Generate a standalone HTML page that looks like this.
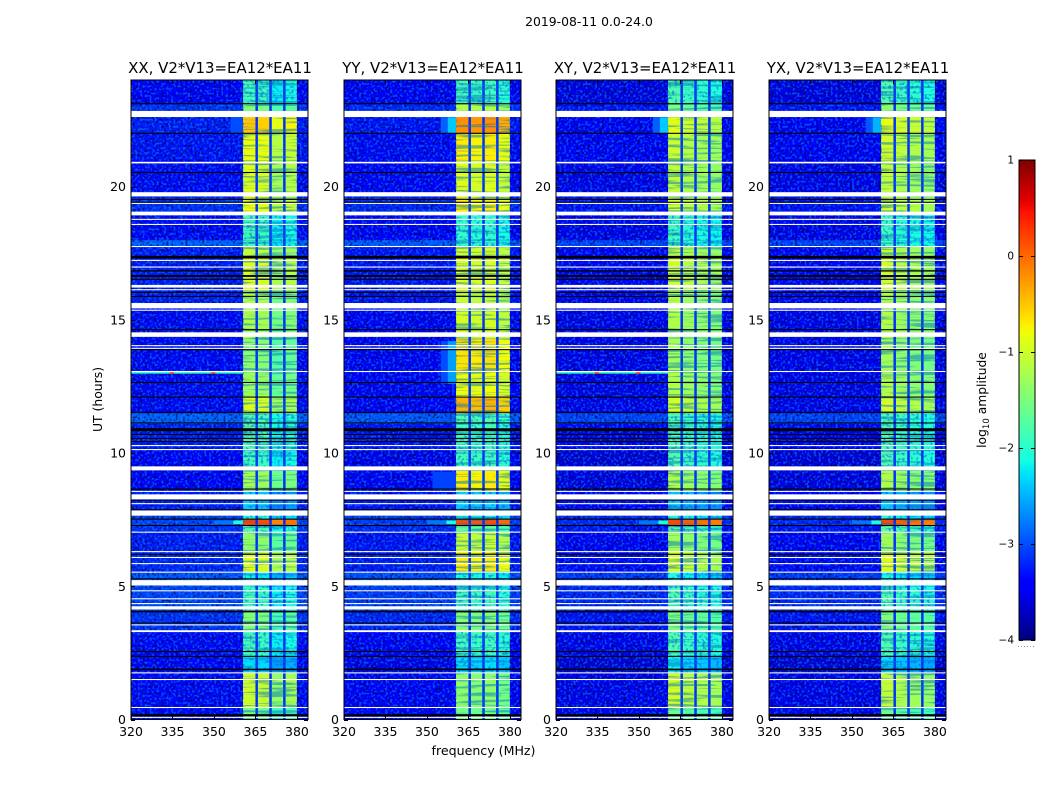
<!DOCTYPE html>
<html lang="en">
<head>
<meta charset="utf-8">
<title>2019-08-11 spectrogram</title>
<style>
html,body{margin:0;padding:0;background:#fff;width:1050px;height:800px;overflow:hidden}
svg{display:block}
text{font-family:"DejaVu Sans","Liberation Sans",sans-serif;fill:#000}
</style>
</head>
<body>
<svg id="chart" xmlns="http://www.w3.org/2000/svg" width="1050" height="800" viewBox="0 0 1050 800">
<defs>
<filter id="darkSpeck" x="0" y="0" width="100%" height="100%" color-interpolation-filters="sRGB">
<feTurbulence type="fractalNoise" baseFrequency="0.42" numOctaves="1" seed="4"/>
<feColorMatrix type="matrix" values="0 0 0 0 0  0 0 0 0 0  0 0 0 0 0.25  7 0 0 0 -3.6"/>
</filter>
<filter id="lightSpeck" x="0" y="0" width="100%" height="100%" color-interpolation-filters="sRGB">
<feTurbulence type="fractalNoise" baseFrequency="0.42" numOctaves="1" seed="11"/>
<feColorMatrix type="matrix" values="0 0 0 0 0  0 0 0 0 0.55  0 0 0 0 1  0 7 0 0 -3.6"/>
</filter>
<filter id="blueSpeck" x="0" y="0" width="100%" height="100%" color-interpolation-filters="sRGB">
<feTurbulence type="fractalNoise" baseFrequency="0.36" numOctaves="1" seed="23"/>
<feColorMatrix type="matrix" values="0 0 0 0 0  0 0 0 0 0.3  0 0 0 0 1  6 0 0 0 -3.2"/>
</filter>
<filter id="streak" x="0" y="0" width="100%" height="100%" color-interpolation-filters="sRGB">
<feTurbulence type="fractalNoise" baseFrequency="0.02 0.38" numOctaves="2" seed="7"/>
<feColorMatrix type="matrix" values="0 0 0 0 0  0 0 0 0 0.45  0 0 0 0 0.75  7 0 0 0 -3.5"/>
</filter>
<linearGradient id="jetGradient" x1="0" y1="1" x2="0" y2="0"></linearGradient>
</defs>
</svg>
<script>
// ---- chart data (log10 amplitude, hours, MHz) ----
const polarizations = ['XX', 'YY', 'XY', 'YX'];
const baselineLabel = 'V2*V13=EA12*EA11';
const figureTitle = '2019-08-11 0.0-24.0';
const freqTicks = [320, 335, 350, 365, 380];
const hourTicks = [0, 5, 10, 15, 20];
const colorTicks = [1, 0, -1, -2, -3, -4];

// time bands (hours): band i runs from timeEdges[i] to timeEdges[i+1]
const timeEdges = [0, 0.45, 1.75, 2.4, 3.3, 4.1, 5.0, 5.55, 6.3, 7.05, 7.28, 7.52, 7.85, 8.6, 9.35, 10.1, 11.1, 11.5, 12.1, 13.05, 14.3, 15.4, 16.1, 17.4, 17.75, 18.0, 19.0, 19.6, 21.0, 22.0, 22.85, 23.1, 24];
const backgroundLevel = [-3.3, -3.3, -3.4, -3.3, -3.1, -3.0, -2.9, -3.15, -3.2, -3.1, -3.0, -3.0, -3.2, -3.35, -3.4, -3.2, -2.85, -3.3, -3.3, -3.3, -3.3, -3.2, -3.2, -3.2, -2.85, -3.3, -3.1, -3.3, -3.25, -3.2, -3.1, -3.35];
const windowXX = [-1.7, -1.15, -2.4, -2.0, -1.6, -2.0, -2.3, -1.05, -1.5, -1.9, 0.05, -2.2, -2.5, -1.4, -2.0, -1.9, -1.9, -1.1, -1.45, -1.55, -1.35, -1.35, -1.05, -1.2, -2.0, -2.0, -0.95, -1.05, -0.95, -0.65, -1.6, -2.0];
const windowYY = [-1.6, -1.45, -2.3, -1.9, -1.5, -1.9, -2.1, -0.75, -1.1, -1.7, 0.1, -2.2, -2.4, -0.75, -1.9, -1.9, -1.8, -0.45, -0.85, -0.7, -1.0, -1.1, -0.95, -1.0, -2.0, -2.0, -0.75, -0.95, -0.75, -0.25, -1.2, -1.9];
const windowXY = [-1.7, -1.1, -2.3, -1.9, -1.6, -1.9, -2.2, -1.1, -1.4, -1.8, 0.05, -2.2, -2.5, -1.3, -1.9, -1.9, -1.9, -1.1, -1.3, -1.4, -1.3, -1.3, -1.1, -1.2, -2.0, -2.0, -1.1, -1.2, -1.15, -1.0, -1.6, -1.9];
const windowYX = [-1.7, -1.2, -2.4, -1.9, -1.6, -1.9, -2.2, -1.0, -1.4, -1.8, 0.05, -2.2, -2.5, -1.3, -1.9, -1.9, -1.9, -1.1, -1.3, -1.4, -1.3, -1.3, -1.1, -1.2, -2.0, -2.0, -1.1, -1.2, -1.1, -0.95, -1.5, -1.9];
const windowLevels = [windowXX, windowYY, windowXY, windowYX];
const backgroundOffset = [-0.05, -0.1, -0.2, -0.2];

// the four bright sub-bands of the 360-380 MHz window
const subbandStart = [360.5, 365.9, 370.9, 375.9];
const subbandEnd = [365.0, 370.0, 375.0, 380.0];
const subbandOffsetXX = [0.15, 0.1, -0.2, -0.1];
const subbandOffsetYY = [0.05, 0, 0.05, -0.1];
const subbandOffsetXY = [0.12, 0, -0.08, -0.15];
const subbandOffsetYX = [0.12, 0, -0.08, -0.15];
const subbandOffsets = [subbandOffsetXX, subbandOffsetYY, subbandOffsetXY, subbandOffsetYX];
const gapLevel = -3.15;
const spottyThreshold = -1.75;

// localized emission: polarization, hour from, hour to, MHz from, MHz to, level
const emissionPol = [0, 1, 1, 2, 2, 3, 3, 1, 1, 1, 0, 1, 2, 3, 0, 1, 2, 3, 0, 2, 0, 0, 2, 2];
const emissionT0 = [22.0, 22.0, 22.0, 22.0, 22.0, 22.0, 22.0, 12.6, 12.6, 8.6, 7.33, 7.33, 7.33, 7.33, 7.33, 7.33, 7.33, 7.33, 12.98, 12.98, 12.98, 12.98, 12.98, 12.98];
const emissionT1 = [22.6, 22.6, 22.6, 22.6, 22.6, 22.6, 22.6, 14.2, 14.2, 9.3, 7.47, 7.47, 7.47, 7.47, 7.47, 7.47, 7.47, 7.47, 13.05, 13.05, 13.05, 13.05, 13.05, 13.05];
const emissionF0 = [356, 355, 357.5, 355, 357.5, 355, 357.5, 355, 357.5, 352, 350, 350, 350, 350, 357, 357, 357, 357, 320, 320, 334, 349, 334, 349];
const emissionF1 = [360.5, 357.5, 360.5, 357.5, 360.5, 357.5, 360.5, 357.5, 360.5, 360.5, 357, 357, 357, 357, 360.5, 360.5, 360.5, 360.5, 360.5, 360.5, 335.5, 350.5, 335.5, 350.5];
const emissionLevel = [-3.0, -2.9, -2.4, -2.9, -2.4, -2.95, -2.5, -3.0, -2.6, -3.05, -2.8, -2.8, -2.8, -2.8, -2.1, -2.1, -2.1, -2.1, -1.9, -1.9, 0.1, 0.1, 0.1, 0.1];

// flagged rows (hours): white = no data, black = zero amplitude
const whiteStart = [22.61, 20.87, 19.63, 19.35, 18.92, 18.75, 18.56, 17.73, 17.21, 16.96, 16.21, 16.11, 15.43, 15.34, 14.36, 14.01, 13.91, 13.04, 10.26, 10.11, 9.35, 8.54, 8.26, 8.08, 7.65, 7.01, 6.28, 6.06, 5.83, 5.51, 5.03, 4.81, 4.51, 4.33, 4.13, 3.53, 3.28, 1.73, 1.48, 0.43, 0.06];
const whiteEnd = [22.84, 20.93, 19.79, 19.40, 19.06, 18.79, 18.60, 17.77, 17.25, 17.00, 16.31, 16.15, 15.63, 15.38, 14.53, 14.05, 13.95, 13.08, 10.30, 10.15, 9.50, 8.58, 8.45, 8.12, 7.85, 7.05, 6.32, 6.10, 5.87, 5.55, 5.23, 4.85, 4.55, 4.37, 4.25, 3.57, 3.35, 1.77, 1.52, 0.47, 0.10];
const blackStart = [23.09, 21.98, 20.51, 19.50, 19.39, 17.30, 16.81, 16.61, 16.50, 16.01, 15.86, 14.61, 13.86, 12.63, 12.08, 11.51, 11.11, 10.82, 10.68, 10.53, 10.41, 8.63, 8.21, 7.85, 7.50, 7.26, 6.18, 5.26, 4.02, 3.60, 2.53, 2.35, 1.85, 0.12];
const blackEnd = [23.13, 22.02, 20.55, 19.54, 19.43, 17.40, 16.86, 16.68, 16.54, 16.05, 15.90, 14.65, 13.90, 12.67, 12.12, 11.55, 11.15, 10.93, 10.72, 10.57, 10.45, 8.67, 8.25, 7.89, 7.54, 7.30, 6.22, 5.30, 4.08, 3.64, 2.57, 2.39, 1.91, 0.20];

// ---- axes ----
const NS = 'http://www.w3.org/2000/svg';
const svg = document.getElementById('chart');
const panelLeft = [131, 344, 556, 769];
const panelWidth = 177;
const plotTop = 80;
const plotBottom = 719.5;
const freqMin = 320, freqMax = 384, hourMin = 0, hourMax = 24;
const levelMin = -4, levelMax = 1;
const barLeft = 1019, barWidth = 16, barTop = 160, barBottom = 640;

function xScale(p, f) { return panelLeft[p] + (f - freqMin) / (freqMax - freqMin) * panelWidth; }
function yScale(h) { return plotBottom - (h - hourMin) / (hourMax - hourMin) * (plotBottom - plotTop); }
function barScale(v) { return barBottom - (v - levelMin) / (levelMax - levelMin) * (barBottom - barTop); }

function interp(t, pts) {
  for (let i = 1; i < pts.length; i++) {
    if (t <= pts[i][0]) {
      const a = pts[i - 1], b = pts[i];
      return a[1] + (b[1] - a[1]) * (t - a[0]) / (b[0] - a[0]);
    }
  }
  return pts[pts.length - 1][1];
}
function jet(t) {
  t = Math.max(0, Math.min(1, t));
  const r = interp(t, [[0, 0], [0.35, 0], [0.66, 1], [0.89, 1], [1, 0.5]]);
  const g = interp(t, [[0, 0], [0.125, 0], [0.375, 1], [0.64, 1], [0.91, 0], [1, 0]]);
  const b = interp(t, [[0, 0.5], [0.11, 1], [0.34, 1], [0.65, 0], [1, 0]]);
  return 'rgb(' + Math.round(r * 255) + ',' + Math.round(g * 255) + ',' + Math.round(b * 255) + ')';
}
function levelColor(v) { return jet((v - levelMin) / (levelMax - levelMin)); }

function makeRect(parent, x, y, w, h, fill) {
  const r = document.createElementNS(NS, 'rect');
  r.setAttribute('x', x.toFixed(2));
  r.setAttribute('y', y.toFixed(2));
  r.setAttribute('width', w.toFixed(2));
  r.setAttribute('height', h.toFixed(2));
  r.setAttribute('fill', fill);
  parent.appendChild(r);
  return r;
}
function makeLine(parent, x1, y1, x2, y2, stroke) {
  const l = document.createElementNS(NS, 'line');
  l.setAttribute('x1', x1);
  l.setAttribute('y1', y1);
  l.setAttribute('x2', x2);
  l.setAttribute('y2', y2);
  l.setAttribute('stroke', stroke);
  l.setAttribute('stroke-width', '1');
  parent.appendChild(l);
  return l;
}
function makeText(parent, x, y, size, anchor, str) {
  const t = document.createElementNS(NS, 'text');
  t.setAttribute('x', x);
  t.setAttribute('y', y);
  t.setAttribute('font-size', size);
  t.setAttribute('text-anchor', anchor);
  t.textContent = str;
  parent.appendChild(t);
  return t;
}

// ---- panels ----
polarizations.forEach(function (pol, p) {
  const left = panelLeft[p];
  const group = document.createElementNS(NS, 'g');
  
  
  svg.appendChild(group);

  const levels = windowLevels[p];
  const offsets = subbandOffsets[p];
  const winLeft = xScale(p, subbandStart[0]);
  const winRight = xScale(p, subbandEnd[3]);
  const panelRight = left + panelWidth;

  for (let i = 0; i < levels.length; i++) {
    const y0 = yScale(timeEdges[i + 1]);
    const y1 = yScale(timeEdges[i]);
    const bg = backgroundLevel[i] + backgroundOffset[p];
    const bgCell = makeRect(group, left, y0, panelWidth, y1 - y0 + 0.3, levelColor(bg));
    
    
    const gapCell = makeRect(group, winLeft, y0, winRight - winLeft, y1 - y0 + 0.3, levelColor(gapLevel));
    
    
    for (let s = 0; s < subbandStart.length; s++) {
      const x0 = xScale(p, subbandStart[s]);
      const x1 = xScale(p, subbandEnd[s]);
      const cell = makeRect(group, x0, y0, x1 - x0, y1 - y0 + 0.3, levelColor(levels[i] + offsets[s]));
      
      
    }
    if (levels[i] <= spottyThreshold) {
      const spots = makeRect(group, winLeft, y0, winRight - winLeft, y1 - y0, '#000');
      spots.setAttribute('filter', 'url(#blueSpeck)');
      spots.setAttribute('opacity', '0.55');
      
      
    }
  }

  // faint horizontal streaks across the bright window
  const streaks = makeRect(group, winLeft, plotTop, winRight - winLeft, plotBottom - plotTop, '#000');
  streaks.setAttribute('filter', 'url(#streak)');
  streaks.setAttribute('opacity', '0.5');
  
  

  // speckle texture over the quiet background only
  const regionX = [left, winRight];
  const regionW = [winLeft - left, panelRight - winRight];
  regionX.forEach(function (rx, k) {
    const dark = makeRect(group, rx, plotTop, regionW[k], plotBottom - plotTop, '#000');
    dark.setAttribute('filter', 'url(#darkSpeck)');
    dark.setAttribute('opacity', '0.6');
    
    
    const light = makeRect(group, rx, plotTop, regionW[k], plotBottom - plotTop, '#000');
    light.setAttribute('filter', 'url(#lightSpeck)');
    light.setAttribute('opacity', '0.55');
    
    
  });

  for (let e = 0; e < emissionPol.length; e++) {
    if (emissionPol[e] !== p) continue;
    const x0 = xScale(p, emissionF0[e]);
    const x1 = xScale(p, emissionF1[e]);
    const y0 = yScale(emissionT1[e]);
    const y1 = yScale(emissionT0[e]);
    const cell = makeRect(group, x0, y0, x1 - x0, y1 - y0, levelColor(emissionLevel[e]));
    
    
  }

  // flagged rows
  whiteStart.forEach(function (h0, i) {
    const y0 = yScale(whiteEnd[i]);
    const y1 = yScale(h0);
    const row = makeRect(group, left, y0, panelWidth, y1 - y0, '#fff');
    
    
  });
  blackStart.forEach(function (h0, i) {
    const y0 = yScale(blackEnd[i]);
    const y1 = yScale(h0);
    const row = makeRect(group, left, y0, panelWidth, y1 - y0, '#000');
    
    
  });

  // frame
  const frame = makeRect(group, left, plotTop, panelWidth, plotBottom - plotTop, 'none');
  frame.setAttribute('stroke', '#000');
  frame.setAttribute('stroke-width', '1');
  
  

  // ticks and labels
  freqTicks.forEach(function (f) {
    const x = Math.round(xScale(p, f)) + 0.5;
    const b = makeLine(group, x, plotBottom, x, plotBottom - 4, '#000');
    
    
    const tp = makeLine(group, x, plotTop, x, plotTop + 4, '#000');
    
    
    const t = makeText(group, xScale(p, f), 736, 12.5, 'middle', String(f));
    
    
  });
  hourTicks.forEach(function (h) {
    const y = Math.round(yScale(h)) + 0.5;
    const a = makeLine(group, left, y, left + 4, y, '#000');
    
    
    const c = makeLine(group, left + panelWidth, y, left + panelWidth - 4, y, '#000');
    
    
    const t = makeText(group, left - 5, yScale(h) + 4.5, 12.5, 'end', String(h));
    
    
  });

  const title = makeText(group, left + panelWidth / 2 + 0.5, 73, 14.95, 'middle', pol + ', ' + baselineLabel);
  
  
});

// ---- figure labels ----
const supTitle = makeText(svg, 589, 26, 12.4, 'middle', figureTitle);



const xTitle = makeText(svg, 483.5, 755, 12.6, 'middle', 'frequency (MHz)');



const yTitle = makeText(svg, 0, 0, 12.4, 'middle', 'UT (hours)');
yTitle.setAttribute('transform', 'translate(102,399.5) rotate(-90)');



// ---- colorbar ----
const gradient = document.getElementById('jetGradient');
for (let i = 0; i <= 64; i++) {
  const stop = document.createElementNS(NS, 'stop');
  stop.setAttribute('offset', (i / 64).toFixed(4));
  stop.setAttribute('stop-color', jet(i / 64));
  gradient.appendChild(stop);
}
const barGroup = document.createElementNS(NS, 'g');


svg.appendChild(barGroup);

const barFill = makeRect(barGroup, barLeft, barTop, barWidth, barBottom - barTop, 'url(#jetGradient)');
barFill.setAttribute('stroke', '#000');
barFill.setAttribute('stroke-width', '1');



colorTicks.forEach(function (v) {
  const y = Math.round(barScale(v)) + 0.5;
  const l = makeLine(barGroup, barLeft, y, barLeft + 4, y, '#000');
  
  
  const r = makeLine(barGroup, barLeft + barWidth, y, barLeft + barWidth - 4, y, '#000');
  
  
  const label = v < 0 ? '\u2212' + Math.abs(v) : String(v);
  const t = makeText(barGroup, barLeft - 5, barScale(v) + 3.5, 10.5, 'end', label);
  
  
});

const barTitle = document.createElementNS(NS, 'text');
barTitle.setAttribute('transform', 'translate(986,400) rotate(-90)');
barTitle.setAttribute('font-size', '12.3');
barTitle.setAttribute('text-anchor', 'middle');


barTitle.textContent = 'log';
const barSub = document.createElementNS(NS, 'tspan');
barSub.setAttribute('font-size', '8.6');
barSub.setAttribute('dy', '3');
barSub.textContent = '10';
barTitle.appendChild(barSub);
const barRest = document.createElementNS(NS, 'tspan');
barRest.setAttribute('dy', '-3');
barRest.textContent = ' amplitude';
barTitle.appendChild(barRest);
svg.appendChild(barTitle);

const dots = makeLine(svg, 1018, 646.5, 1035, 646.5, '#999');
dots.setAttribute('stroke-dasharray', '1 2');


</script>
</body>
</html>
